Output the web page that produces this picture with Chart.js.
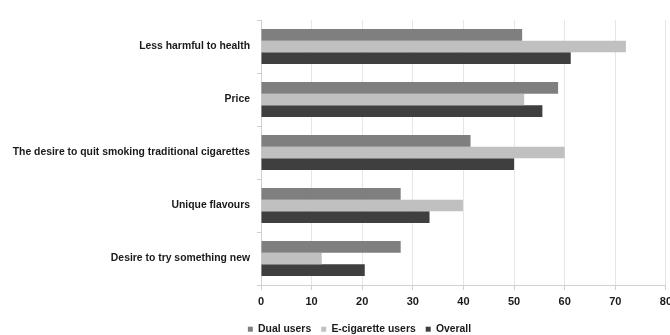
<!DOCTYPE html>
<html>
<head>
<meta charset="utf-8">
<script src="https://cdn.jsdelivr.net/npm/chart.js@4"></script>
<style>
  html, body { margin: 0; padding: 0; background: #fff; overflow: hidden; }
  #wrap { width: 677px; height: 335px; position: relative; }
</style>
</head>
<body>
<div id="wrap"><canvas id="c"></canvas></div>
<script>
const categories = [
  "Less harmful to health",
  "Price",
  "The desire to quit smoking traditional cigarettes",
  "Unique flavours",
  "Desire to try something new"
];
const seriesNames = ["Dual users", "E-cigarette users", "Overall"];
const dualUsers = [51.6, 58.7, 41.4, 27.6, 27.6];
const eCigUsers = [72.1, 52.0, 60.0, 39.9, 12.0];
const overall = [61.2, 55.6, 50.0, 33.3, 20.5];
const xTicks = [0, 10, 20, 30, 40, 50, 60, 70, 80];
const colors = ["#7f7f7f", "#c0c0c0", "#3f3f3f"];

const FONT = "'Liberation Sans', Arial, sans-serif";

const legendTweak = {
  id: "legendTweak",
  beforeLayout(chart) {
    const lg = chart.legend;
    if (lg && !lg._patched) {
      const orig = lg.fit;
      lg.fit = function () { orig.call(this); this.height = 21; };
      lg._patched = true;
    }
  },
  afterLayout(chart) {
    const lg = chart.legend;
    if (lg) { lg.left += 21; lg.right += 21; }
  }
};

new Chart(document.getElementById("c"), {
  type: "bar",
  data: {
    labels: categories,
    datasets: [dualUsers, eCigUsers, overall].map((d, i) => ({
      label: seriesNames[i],
      data: d,
      backgroundColor: colors[i],
      borderWidth: 0,
      categoryPercentage: 0.66,
      barPercentage: 1.0
    }))
  },
  plugins: [legendTweak],
  options: {
    indexAxis: "y",
    responsive: true,
    maintainAspectRatio: false,
    animation: false,
    layout: { padding: { top: 20, left: 0, right: 0, bottom: 0 } },
    plugins: {
      legend: {
        position: "bottom",
        labels: {
          boxWidth: 5,
          boxHeight: 5,
          padding: 10,
          color: "#1a1a1a",
          font: { family: FONT, size: 10.4, weight: "bold" }
        }
      },
      tooltip: { enabled: false }
    },
    scales: {
      x: {
        min: 0,
        max: 80,
        afterBuildTicks: (s) => { s.ticks = xTicks.map(v => ({ value: v })); },
        afterFit: (s) => { s.height = 29; },
        grid: {
          color: "#e6e6e6",
          tickLength: 5,
          tickColor: "#d0d0d0"
        },
        border: { color: "#d0d0d0" },
        ticks: {
          padding: 5,
          color: "#1a1a1a",
          font: { family: FONT, size: 11, weight: "bold" }
        }
      },
      y: {
        afterFit: (s) => { s.width = 261; },
        grid: {
          offset: true,
          drawOnChartArea: false,
          tickLength: 4,
          tickColor: "#d0d0d0"
        },
        border: { color: "#d0d0d0" },
        ticks: {
          padding: 7,
          color: "#1a1a1a",
          font: { family: FONT, size: 10.4, weight: "bold" }
        }
      }
    }
  }
});
</script>
</body>
</html>
